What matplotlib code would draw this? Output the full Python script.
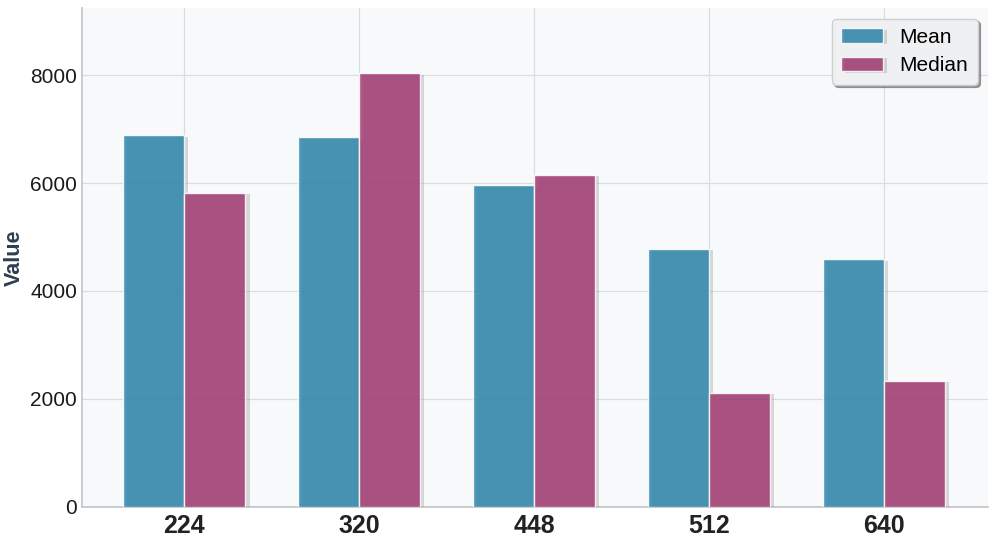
import matplotlib
matplotlib.use("Agg")
import matplotlib.pyplot as plt
import matplotlib.patheffects as pe
import numpy as np

plt.rcParams['font.family'] = ['Liberation Sans', 'DejaVu Sans']

# data
categories = ['224', '320', '448', '512', '640']
mean_vals = [6890, 6850, 5960, 4780, 4590]
median_vals = [5815, 8040, 6150, 2110, 2330]

x = np.arange(len(categories))
width = 0.35
shadow = [pe.SimplePatchShadow(offset=(3, -1), shadow_rgbFace='#888888', alpha=0.3), pe.Normal()]

fig, ax = plt.subplots(figsize=(9.97, 5.39), dpi=100)
ax.set_facecolor('#f8f9fb')

ax.bar(x - width / 2, mean_vals, width, color='#2E86AB', alpha=0.85, edgecolor='white',
       linewidth=1, label='Mean', path_effects=shadow, zorder=3)
ax.bar(x + width / 2, median_vals, width, color='#A23B72', alpha=0.85, edgecolor='white',
       linewidth=1, label='Median', path_effects=shadow, zorder=3)

ax.set_xticks(x)
ax.set_xticklabels(categories, fontsize=18, fontweight='bold', color='#222222')
ax.tick_params(axis='y', labelsize=15, labelcolor='#1a1a1a', length=0)
ax.tick_params(axis='x', length=0, pad=5)
ax.set_ylabel('Value', fontsize=15.5, fontweight='bold', color='#2c3e50')
ax.set_xlim(-0.585, 4.595)
ax.set_ylim(0, max(median_vals) * 1.15)

ax.grid(True, color='#dcdde2', linewidth=0.9, zorder=0)
for s in ['top', 'right']:
    ax.spines[s].set_visible(False)
for s in ['left', 'bottom']:
    ax.spines[s].set_color('#c0c4c8')
    ax.spines[s].set_linewidth(1.2)

leg = ax.legend(loc='upper right', fontsize=15, shadow=True, fancybox=True, framealpha=0.95,
                labelspacing=0.45, borderpad=0.45, bbox_to_anchor=(1.0, 1.0))
leg.get_frame().set_facecolor('#f4f5f7')

plt.subplots_adjust(left=0.082, right=0.991, top=0.985, bottom=0.06)
plt.savefig('out.png', dpi=100)
